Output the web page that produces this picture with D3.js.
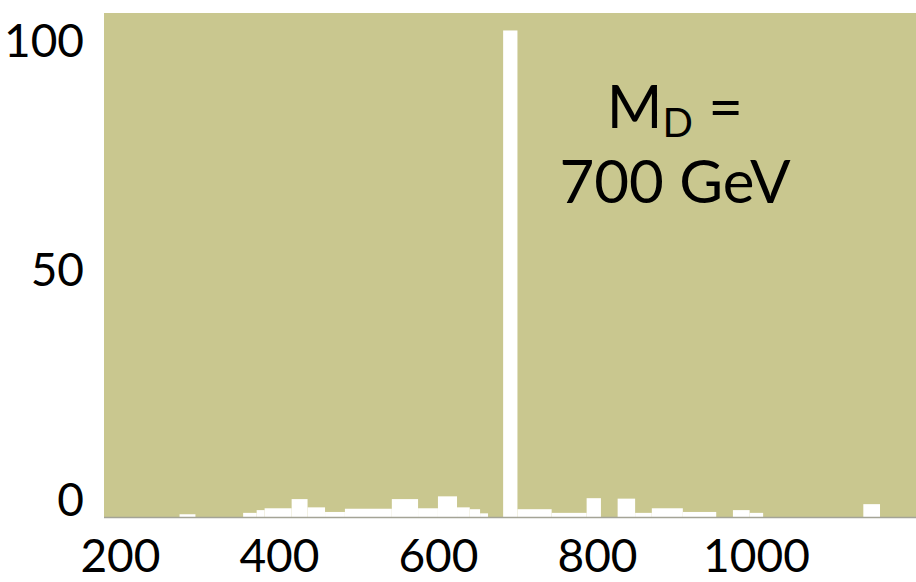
<!DOCTYPE html>
<html>
<head>
<meta charset="utf-8">
<script src="https://cdn.jsdelivr.net/npm/d3@7"></script>
<style>
  html, body { margin: 0; padding: 0; background: #ffffff; }
  svg { display: block; }
  text { font-family: Lato, "Open Sans", sans-serif; fill: #000; }
</style>
</head>
<body>
<svg id="chart" width="916" height="582"></svg>
<script>
// Invariant-mass histogram (GeV), variable-width bins given by their edges
const binEdges = [180, 275, 295, 355, 372, 382, 416, 436, 458, 483, 542, 575, 600, 624, 640,
                  653, 663, 682, 700, 743, 787, 805, 826, 848, 869, 908, 950, 971, 992, 1009,
                  1135, 1156, 1200];
const binCounts = [0, 0.6, 0, 0.9, 1.5, 1.9, 3.9, 2.1, 1.1, 1.8, 3.9, 1.9, 4.5, 2.1, 1.7,
                   0.8, 0, 106, 1.7, 0.9, 4.1, 0, 4.0, 0.9, 1.9, 1.1, 0, 1.5, 0.9, 0,
                   2.8, 0];
const xTicks = [200, 400, 600, 800, 1000];
const yTicks = [0, 50, 100];
const xDomain = [180, 1200];
const yDomain = [0, 100];

const bins = binCounts.map((c, i) => ({ x0: binEdges[i], x1: binEdges[i + 1], count: c }));

const svg = d3.select("#chart");
const plot = { left: 104, right: 916, top: 13, bottom: 517 };

const x = d3.scaleLinear().domain(xDomain).range([plot.left, plot.right - 1]);
const y = d3.scaleLinear().domain(yDomain).range([plot.bottom, 58]);

// plot background
svg.append("rect")
  .attr("x", plot.left).attr("y", plot.top)
  .attr("width", plot.right - plot.left).attr("height", plot.bottom - plot.top)
  .attr("fill", "#c9c78f");

// histogram bars
svg.append("g")
  .selectAll("rect")
  .data(bins.filter(d => d.count > 0))
  .join("rect")
  .attr("x", d => x(d.x0))
  .attr("width", d => x(d.x1) - x(d.x0))
  .attr("y", d => y(d.count))
  .attr("height", d => y(0) - y(d.count))
  .attr("fill", "#ffffff");

// baseline
svg.append("line")
  .attr("x1", plot.left).attr("x2", plot.right)
  .attr("y1", plot.bottom + 0.5).attr("y2", plot.bottom + 0.5)
  .attr("stroke", "#a4a496").attr("stroke-width", 1.5);

// x axis labels
const xAxis = d3.axisBottom(x).tickValues(xTicks).tickSize(0).tickPadding(0)
  .tickFormat(d3.format("d"));
const gx = svg.append("g").attr("transform", "translate(0, 572)").call(xAxis);
gx.select(".domain").remove();
gx.selectAll("text")
  .attr("dy", 0).attr("y", 0)
  .style("font-family", "Lato, 'Open Sans', sans-serif")
  .style("font-size", "46px").attr("fill", "#000");

// y axis labels
const yAxis = d3.axisLeft(y).tickValues(yTicks).tickSize(0).tickPadding(0)
  .tickFormat(d3.format("d"));
const gy = svg.append("g").attr("transform", "translate(84, -18)").call(yAxis);
gy.select(".domain").remove();
gy.selectAll("text")
  .attr("dy", "0.35em").attr("x", 0)
  .style("font-family", "Lato, 'Open Sans', sans-serif")
  .style("font-size", "46px").attr("fill", "#000");

// annotation
const note = svg.append("text")
  .attr("x", 675).attr("y", 128)
  .attr("text-anchor", "middle")
  .style("font-size", "60px");
note.append("tspan").text("M");
note.append("tspan").text("D").attr("dy", 9).style("font-size", "40px");
note.append("tspan").text(" =").attr("dy", -9);

svg.append("text")
  .attr("x", 675).attr("y", 203)
  .attr("text-anchor", "middle")
  .style("font-size", "60px")
  .text("700 GeV");
</script>
</body>
</html>
